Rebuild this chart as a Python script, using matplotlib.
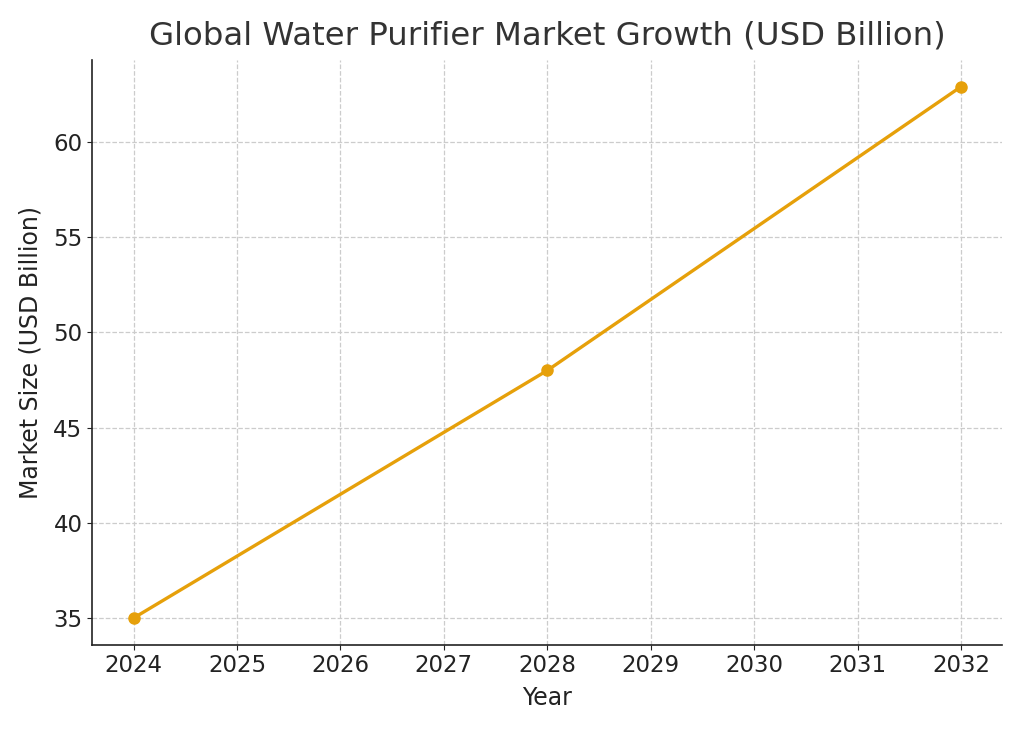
import matplotlib
matplotlib.use("Agg")
import matplotlib.pyplot as plt

# data
years = [2024, 2028, 2032]
market_size = [35.0, 48.0, 62.9]
title = "Global Water Purifier Market Growth (USD Billion)"

fig, ax = plt.subplots(figsize=(10.24, 7.31), dpi=100)
ax.plot(years, market_size, marker="o", color="#E6A00A", linewidth=2.4, markersize=8)

ax.set_title(title, fontsize=23.3, color="#333333", pad=11)
ax.set_xlabel("Year", fontsize=17, color="#222222", labelpad=6)
ax.set_ylabel("Market Size (USD Billion)", fontsize=17, color="#222222", labelpad=8)
ax.set_xticks(range(2024, 2033))
ax.set_yticks([35, 40, 45, 50, 55, 60])
ax.tick_params(labelsize=16.5, colors="#222222")
ax.grid(True, linestyle="--", color="#cccccc", linewidth=0.9)
ax.spines["top"].set_visible(False)
ax.spines["right"].set_visible(False)
for s in ("left", "bottom"):
    ax.spines[s].set_linewidth(1.2)
    ax.spines[s].set_color("#222222")
ax.set_xlim(2023.6, 2032.4)
ax.set_ylim(33.6, 64.3)

plt.subplots_adjust(left=0.09, right=0.979, top=0.918, bottom=0.118)
fig.savefig("out.png")
